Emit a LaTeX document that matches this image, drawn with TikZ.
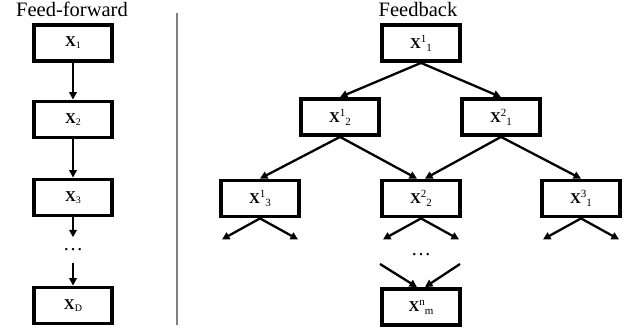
\documentclass[tikz,border=0pt]{standalone}
\usepackage{fontspec}
\setmainfont{Liberation Serif}
\usetikzlibrary{arrows.meta}
\newcommand{\ffx}[1]{{\fontsize{15}{15}\selectfont\textbf{X}}{\fontsize{10}{10}\selectfont\raisebox{-2pt}{#1}}}
\newcommand{\fbx}[2]{{\fontsize{15}{15}\selectfont\textbf{X}}{\fontsize{11}{11}\selectfont\raisebox{6pt}{#1}\raisebox{-3pt}{#2}}}
\tikzset{
  box/.style={draw, line width=3.8pt, minimum width=78pt, minimum height=36pt, inner sep=0pt},
  arr/.style={line width=2.3pt, -{Triangle[length=7.5pt,width=7.5pt]}},
  title/.style={anchor=base, inner sep=0pt, font=\fontsize{20.5}{24}\selectfont},
  dotsnode/.style={inner sep=0pt, minimum height=25pt, font=\fontsize{20}{24}\selectfont},
}

\begin{document}
\begin{tikzpicture}[x=1pt,y=-1pt]
        \useasboundingbox (0,0) rectangle (632,335);
        \node [title] (tff) at (72,16) {Feed-forward};
        \node [title] (tfb) at (418,16) {Feedback};
        \draw [gray, line width=1.5pt] (177,13) -- (177,325);
        % feed-forward chain
        \node [box] (f1) at (73,43) {\ffx{1}};
        \node [box] (f2) at (73,119.5) {\ffx{2}};
        \node [box] (f3) at (73,197.5) {\ffx{3}};
        \node [dotsnode] (fdots) at (73,250) {\ldots};
        \node [box] (fD) at (73,305.5) {\ffx{D}};
        \draw [arr] (f1) -- (f2);
        \draw [arr] (f2) -- (f3);
        \draw [arr] (f3) -- (fdots);
        \draw [arr] (fdots) -- (fD);
        % feedback tree
        \node [box] (b11) at (421,43) {\fbx{1}{1}};
        \node [box] (b12) at (340,117) {\fbx{1}{2}};
        \node [box] (b21) at (501,117) {\fbx{2}{1}};
        \node [box] (b13) at (260,198.5) {\fbx{1}{3}};
        \node [box] (b22) at (421,198.5) {\fbx{2}{2}};
        \node [box] (b31) at (581,198.5) {\fbx{3}{1}};
        \node [dotsnode] (bdots) at (421,255) {\ldots};
        \node [box] (bnm) at (421,307) {\fbx{n}{m}};
        \draw [arr] (b11.south) -- (b12.north);
        \draw [arr] (b11.south) -- (b21.north);
        \draw [arr] (b12.south) -- (b13.north);
        \draw [arr] (b12.south) -- ([xshift=-4pt]b22.north);
        \draw [arr] (b21.south) -- ([xshift=4pt]b22.north);
        \draw [arr] (b21.south) -- (b31.north);
        \foreach \n in {b13,b22,b31} {
          \path (\n.south) ++(-38,21) coordinate (\n-l);
          \path (\n.south) ++(38,21) coordinate (\n-r);
          \draw [arr] (\n.south) -- (\n-l);
          \draw [arr] (\n.south) -- (\n-r);
        }
        \coordinate (inl) at (380,264);
        \coordinate (inr) at (460,264);
        \draw [arr] (inl) -- ([xshift=-4pt]bnm.north);
        \draw [arr] (inr) -- ([xshift=4pt]bnm.north);
      \end{tikzpicture}
\end{document}
